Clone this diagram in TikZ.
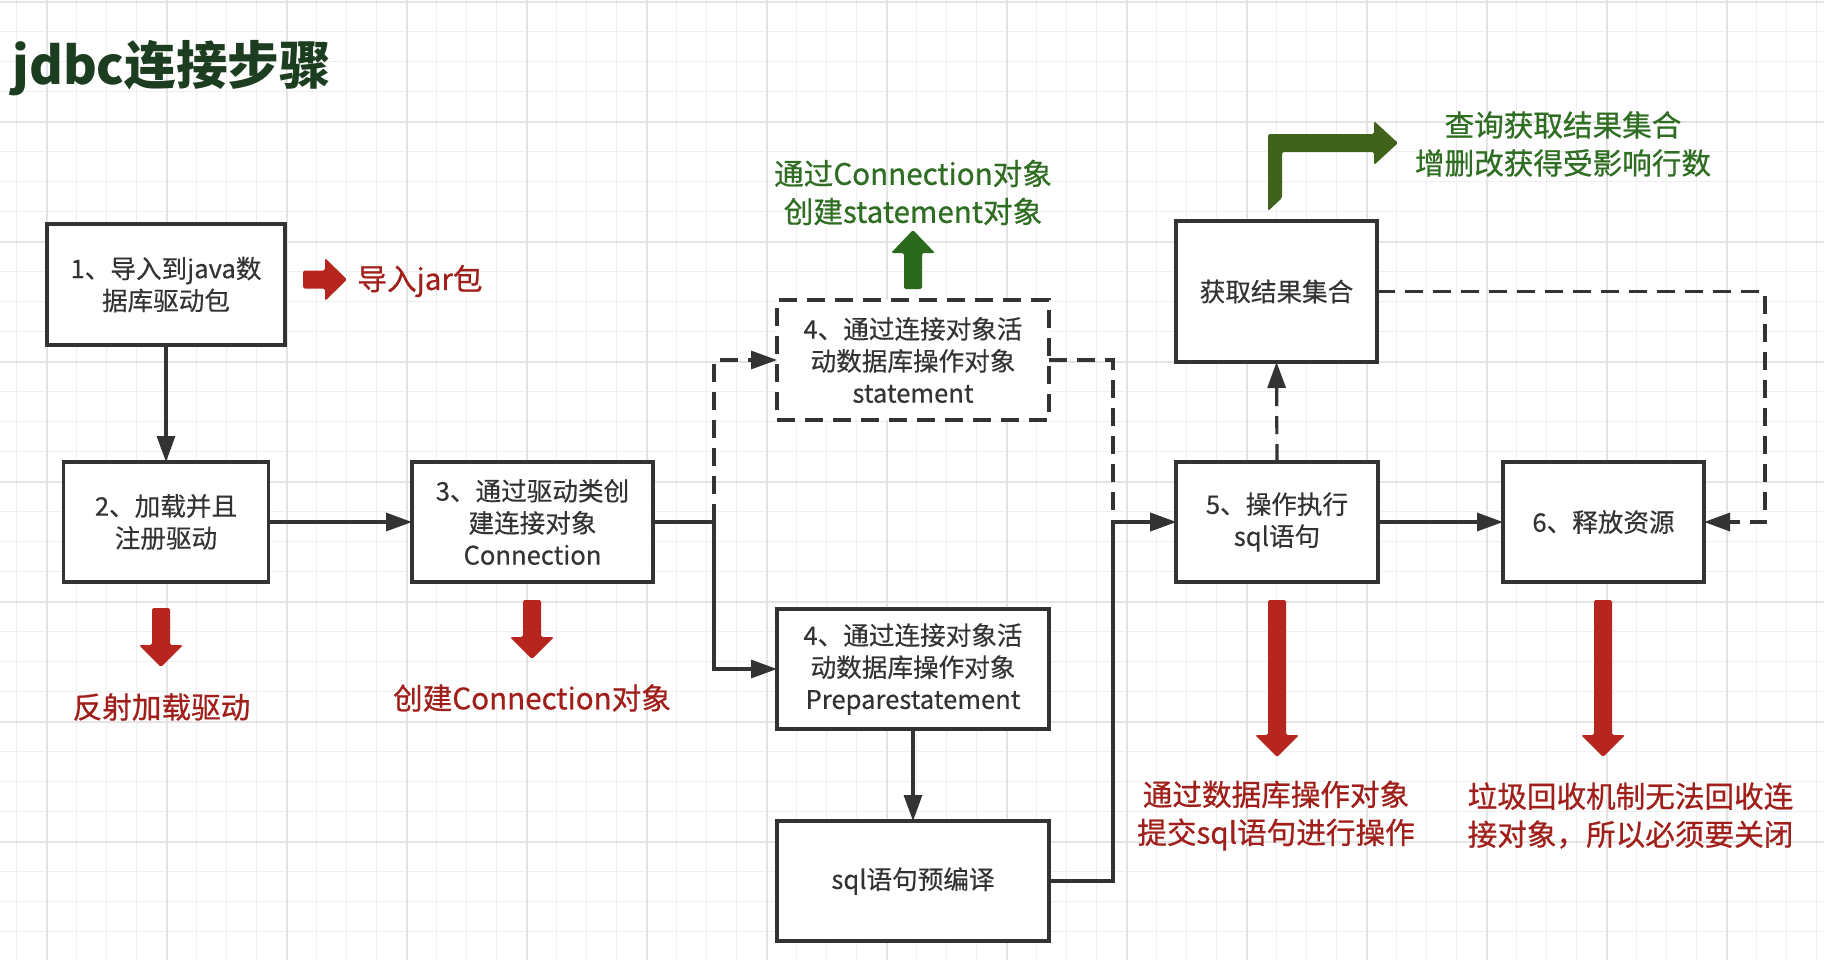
\documentclass[tikz,border=0pt]{standalone}
\usepackage{fontspec}
\setmainfont{Noto Sans CJK SC}
\newfontfamily\labfont[FakeBold=0.7]{Noto Sans CJK SC}
\newfontfamily\boxfont[FakeBold=0.3]{Noto Sans CJK SC}
\usetikzlibrary{arrows.meta}
\definecolor{linec}{HTML}{333333}
\definecolor{gridminor}{HTML}{EFEFEF}
\definecolor{gridmajor}{HTML}{E4E4E4}
\definecolor{redarrow}{HTML}{B7261E}
\definecolor{redtext}{HTML}{A01F1A}
\definecolor{greentext}{HTML}{2F6E22}
\definecolor{greenarrow}{HTML}{2B6A1D}
\definecolor{bentgreen}{HTML}{41621B}
\definecolor{titlec}{HTML}{1C3D20}
\tikzset{
  box/.style={draw=linec, line width=1.8pt, fill=white, align=center, text=linec,
    font=\boxfont\fontsize{12.8pt}{16pt}\selectfont, inner sep=0pt, outer sep=0pt},
  dbox/.style={box, dash pattern=on 9pt off 5pt},
  conn/.style={draw=linec, line width=1.6pt, -{Triangle[length=13pt,width=9pt]}},
  dconn/.style={conn, dash pattern=on 9pt off 5pt},
  lab/.style={align=center, font=\labfont\fontsize{14.8pt}{19pt}\selectfont, inner sep=0pt},
  redlab/.style={lab, text=redtext},
  greenlab/.style={lab, text=greentext},
}
\begin{document}
\begin{tikzpicture}[x=0.5pt,y=-0.5pt]
\useasboundingbox (0,0) rectangle (1824,960);
\fill[white] (0,0) rectangle (1824,960);
% grid
\foreach \x in {16.7,46.7,...,1824} \draw[gridminor, line width=0.6pt] (\x,0) -- (\x,960);
\foreach \y in {1.7,31.7,...,960} \draw[gridminor, line width=0.6pt] (0,\y) -- (1824,\y);
\foreach \x in {46.7,166.7,...,1824} \draw[gridmajor, line width=1pt] (\x,0) -- (\x,960);
\foreach \y in {1.7,121.7,...,960} \draw[gridmajor, line width=1pt] (0,\y) -- (1824,\y);

% title
\node[anchor=base west, inner sep=0pt, text=titlec, font=\fontsize{25.8pt}{30pt}\selectfont\bfseries] (title) at (12,84) {jdbc连接步骤};

% boxes
\node[box, minimum width=119pt, minimum height=60.5pt] (b1) at (166,284.5) {1、导入到java数\\据库驱动包};
\node[box, minimum width=102.5pt, minimum height=60pt] (b2) at (166,522) {2、加载并且\\注册驱动};
\node[box, minimum width=120.5pt, minimum height=60pt] (b3) at (532.5,522) {3、通过驱动类创\\建连接对象\\Connection};
\node[dbox, minimum width=136pt, minimum height=60pt] (b4a) at (913,360) {4、通过连接对象活\\动数据库操作对象\\statement};
\node[box, minimum width=136pt, minimum height=60pt] (b4b) at (913,669) {4、通过连接对象活\\动数据库操作对象\\Preparestatement};
\node[box, minimum width=136pt, minimum height=60pt] (bsql) at (913,881) {sql语句预编译};
\node[box, minimum width=101pt, minimum height=60pt] (b5) at (1277,522) {5、操作执行\\sql语句};
\node[box, minimum width=100.5pt, minimum height=70.5pt] (br) at (1276.5,291.5) {获取结果集合};
\node[box, minimum width=100.5pt, minimum height=60pt] (b6) at (1603.5,522) {6、释放资源};

% junction coordinates
\coordinate (j1) at (714,522);
\coordinate (j2) at (1113,522);
\coordinate (j3) at (1765,400);

% connectors
\draw[conn] (b1.south) -- (b2.north);
\draw[conn] (b2.east) -- (b3.west);
\draw[dconn] (j1) |- (b4a.west);
\draw[conn] (b3.east) -- (j1) |- (b4b.west);
\draw[conn] (b4b.south) -- (bsql.north);
\draw[dconn] (b4a.east) -| (j2) -- (b5.west);
\draw[conn] (bsql.east) -| (j2) -- (b5.west);
\draw[dconn] (b5.north) -- (br.south);
\draw[conn] (b5.east) -- (b6.west);
\draw[dconn] (br.east) -| (j3) |- (b6.east);

% red / green block arrows
\fill[redarrow, rounded corners=0.8pt] (303,270.5) -- (325,270.5) -- (325,258) -- (347,279.5) -- (325,301) -- (325,288.5) -- (303,288.5) -- cycle;
\fill[redarrow, rounded corners=0.8pt] (152,608) -- (170,608) -- (170,645) -- (183,645) -- (161,667) -- (139,645) -- (152,645) -- cycle;
\fill[redarrow, rounded corners=0.8pt] (523,600) -- (541,600) -- (541,637) -- (554,637) -- (532,659) -- (510,637) -- (523,637) -- cycle;
\fill[redarrow, rounded corners=0.8pt] (1268,600) -- (1286,600) -- (1286,735) -- (1299,735) -- (1277,757) -- (1255,735) -- (1268,735) -- cycle;
\fill[redarrow, rounded corners=0.8pt] (1594,600) -- (1612,600) -- (1612,735) -- (1625,735) -- (1603,757) -- (1581,735) -- (1594,735) -- cycle;
\fill[greenarrow, rounded corners=0.8pt] (904,289) -- (922,289) -- (922,253) -- (935,253) -- (913,230) -- (891,253) -- (904,253) -- cycle;
\fill[bentgreen, rounded corners=0.8pt] (1268,211) -- (1268,134) -- (1374,134) -- (1374,121) -- (1398,143) -- (1374,165) -- (1374,152) -- (1282,152) -- (1282,198) -- cycle;

% labels
\node[redlab, anchor=west] (l1) at (357,281) {导入jar包};
\node[redlab] (l2) at (161.5,707) {反射加载驱动};
\node[redlab] (l3) at (532,698) {创建Connection对象};
\node[greenlab] (l4) at (913,192.5) {通过Connection对象\\创建statement对象};
\node[greenlab] (l5) at (1563,144) {查询获取结果集合\\增删改获得受影响行数};
\node[redlab] (l6) at (1276,815.5) {通过数据库操作对象\\提交sql语句进行操作};
\node[redlab] (l7) at (1630.5,815.5) {垃圾回收机制无法回收连\\接对象，所以必须要关闭};
\end{tikzpicture}
\end{document}
